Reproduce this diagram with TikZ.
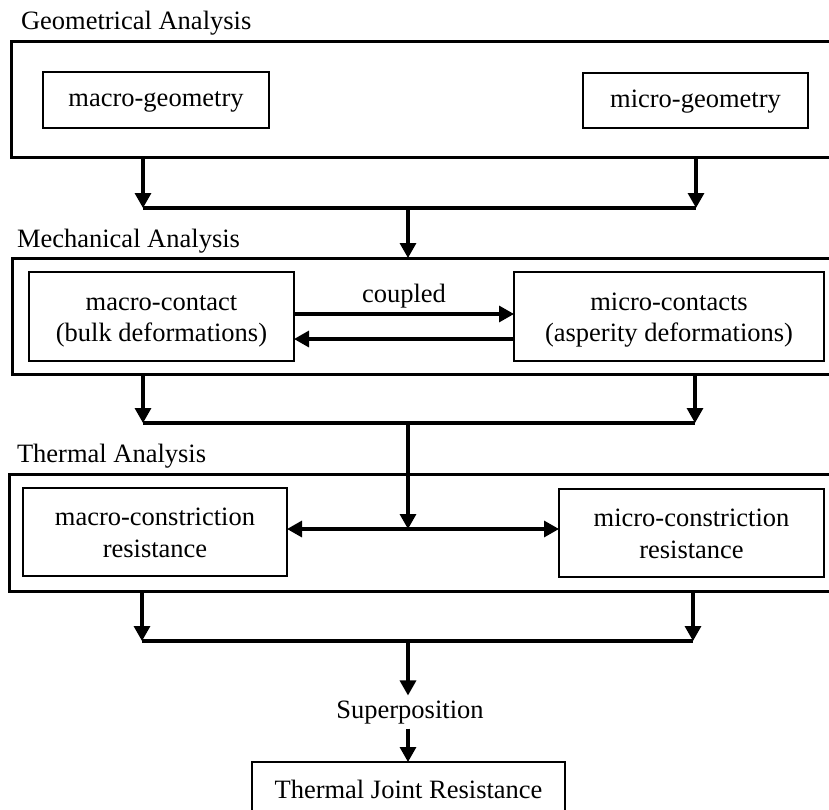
\documentclass[tikz,border=0pt]{standalone}
\usepackage{fontspec}
\setmainfont{Liberation Serif}
\usetikzlibrary{arrows.meta}
\begin{document}
\begin{tikzpicture}[x=1pt,y=-1pt,
  every node/.style={font=\fontsize{26.5}{31.5}\selectfont, inner sep=0pt, outer sep=0pt},
  frame/.style={draw, line width=3pt, rectangle, anchor=north west, minimum width=860pt},
  box/.style={draw, line width=2.4pt, rectangle, align=center},
  oneline/.style={text height=19pt, text depth=6pt},
  twoline/.style={text height=56pt, text depth=6pt},
  title/.style={anchor=base west},
  link/.style={line width=3.2pt},
  tip/.tip={Triangle[length=15pt,width=16pt]},
  arr/.style={link, -tip},
  dblarr/.style={link, tip-tip}]
\useasboundingbox (0,0) rectangle (829,809);
\clip (0,0) rectangle (829,809);

% --- Geometrical analysis ---
\node[title] (tgeo) at (21,29) {Geometrical Analysis};
\node[frame, minimum height=116pt] (geo) at (11,41) {};
\node[box, oneline, minimum width=226pt, minimum height=56pt] (mg) at (156,100) {macro-geometry};
\node[box, oneline, minimum width=225pt, minimum height=55pt] (mig) at (695.5,100.5) {micro-geometry};

\coordinate (l1) at (143,208);
\coordinate (r1) at (696,208);
\coordinate (m1) at (408,208);
\draw[arr] (geo.south -| l1) -- (l1);
\draw[arr] (geo.south -| r1) -- (r1);
\draw[link] (l1) -- (r1);

% --- Mechanical analysis ---
\node[title] (tmech) at (17,247) {Mechanical Analysis};
\node[frame, minimum height=116pt] (mech) at (12,258) {};
\draw[arr] (m1) -- (mech.north -| m1);
\node[box, twoline, minimum width=265pt, minimum height=89pt] (mc) at (161.5,316.5) {macro-contact\\(bulk deformations)};
\node[box, twoline, minimum width=310pt, minimum height=89pt] (mic) at (669,316.5) {micro-contacts\\(asperity deformations)};

\coordinate (c1) at (404,314);
\coordinate (c2) at (404,339);
\draw[arr] (mc.east |- c1) -- (mic.west |- c1);
\draw[arr] (mic.west |- c2) -- (mc.east |- c2);
\node[anchor=base] (cpl) at (404,302) {coupled};

\coordinate (l2) at (143,423);
\coordinate (r2) at (695,423);
\coordinate (m2) at (408,423);
\draw[arr] (mech.south -| l2) -- (l2);
\draw[arr] (mech.south -| r2) -- (r2);
\draw[link] (l2) -- (r2);

% --- Thermal analysis ---
\node[title] (ttherm) at (17,462) {Thermal Analysis};
\node[frame, minimum height=117pt] (therm) at (9,474) {};
\node[box, twoline, minimum width=264pt, minimum height=88pt] (mcr) at (155,532) {macro-constriction\\resistance};
\node[box, twoline, minimum width=265pt, minimum height=88pt] (micr) at (691.5,533) {micro-constriction\\resistance};

\coordinate (t) at (408,529);
\draw[dblarr] (mcr.east |- t) -- (micr.west |- t);
\draw[arr] (m2) -- (t);

\coordinate (l3) at (142,641);
\coordinate (r3) at (693,641);
\coordinate (m3) at (408,641);
\draw[arr] (therm.south -| l3) -- (l3);
\draw[arr] (therm.south -| r3) -- (r3);
\draw[link] (l3) -- (r3);

% --- Result ---
\node[anchor=base, inner xsep=0pt, inner ysep=5pt] (sup) at (410,718) {Superposition};
\draw[arr] (m3) -- (m3 |- sup.north);
\node[box, oneline, anchor=north, minimum width=313pt, minimum height=60pt] (tjr) at (408.5,762) {Thermal Joint Resistance};
\draw[arr] (sup.south -| m3) -- (tjr.north -| m3);
\end{tikzpicture}
\end{document}
